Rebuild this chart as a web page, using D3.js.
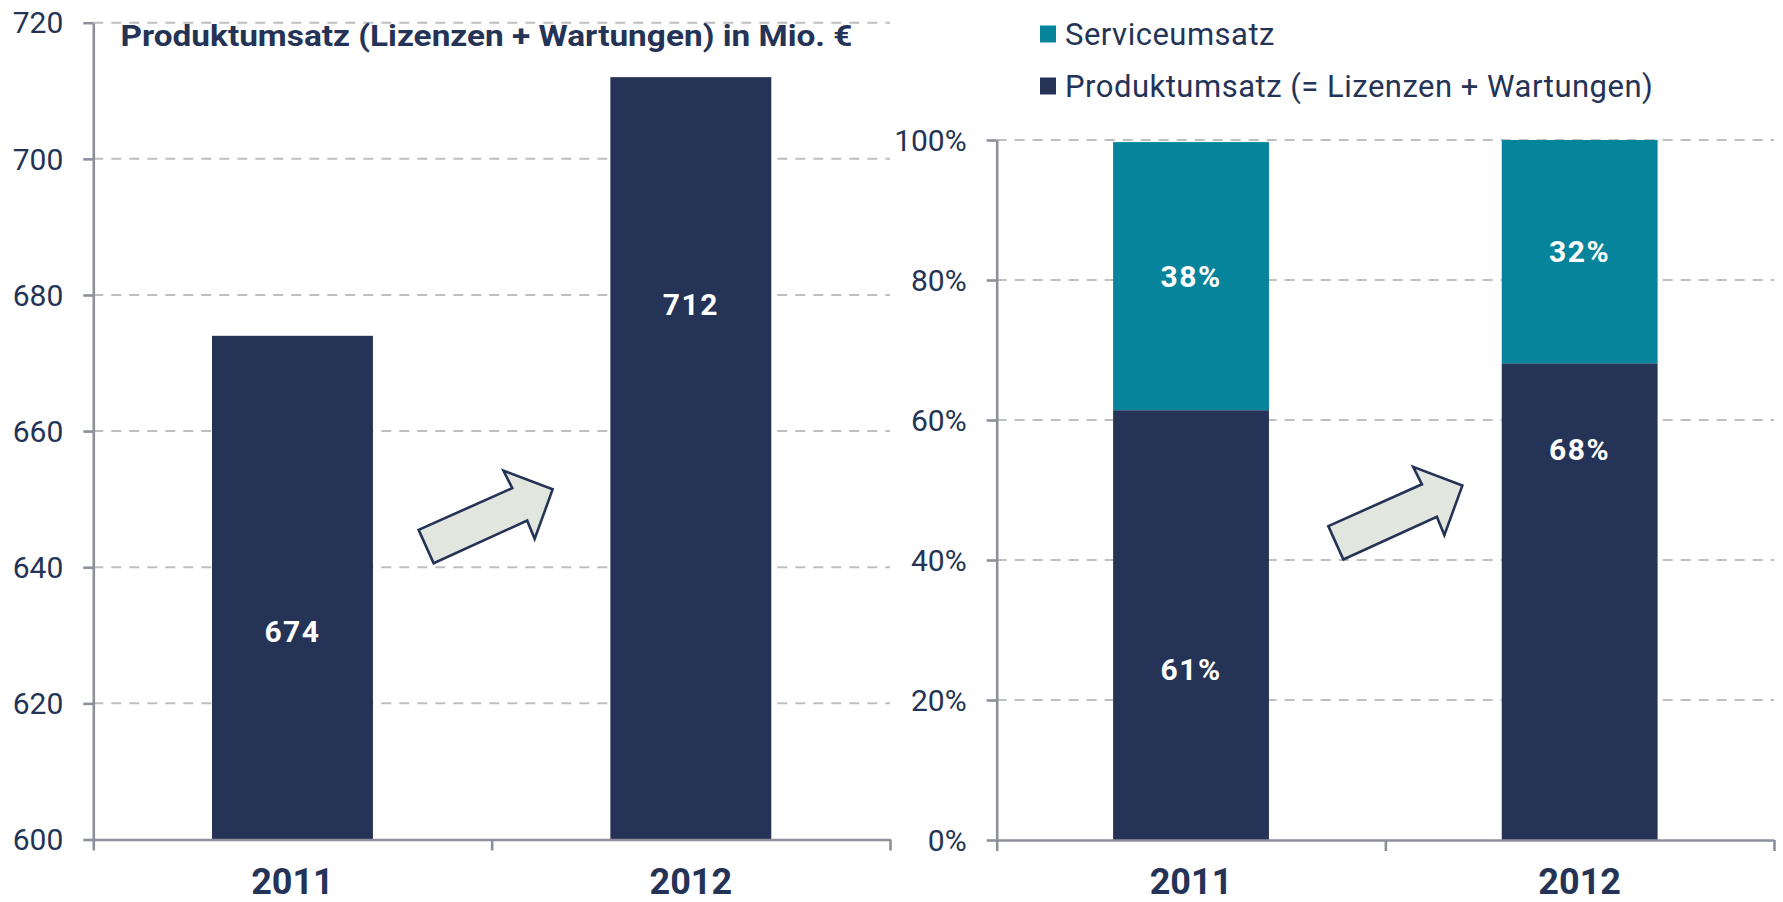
<!DOCTYPE html>
<html><head><meta charset="utf-8">
<script src="https://cdn.jsdelivr.net/npm/d3@7"></script>
<style>
body{margin:0;background:#fff;}
text{font-family:Roboto,"Open Sans",sans-serif;fill:#243356;}
</style></head>
<body><svg id="c" width="1783" height="902"></svg>
<script>
const years = ["2011","2012"];
const productRevenue = [674, 712];
const productShare = [61.4, 68.1];
const serviceShare = [38.3, 31.9];
const leftTicks = [600,620,640,660,680,700,720];
const rightTicks = [0,20,40,60,80,100];
const leftTitle = "Produktumsatz (Lizenzen + Wartungen) in Mio. €";
const legendLabels = ["Serviceumsatz","Produktumsatz (= Lizenzen + Wartungen)"];

const NAVY="#243356", TEAL="#05849B", AXIS="#8D909B", GRID="#BFBFBF", ARROWFILL="#E1E6DE";
const svg = d3.select("#c");

function arrow(g, cx, cy){
  const shape=[[-67,13],[-52,46.4],[41.5,3.7],[49,22],[67,-27.5],[17.8,-46.3],[26.6,-28.8]];
  g.append("polygon").attr("points", shape.map(p=>[cx+p[0],cy+p[1]].join(",")).join(" "))
   .attr("fill",ARROWFILL).attr("stroke",NAVY).attr("stroke-width",2.6).attr("stroke-linejoin","miter");
}

function panel(opts){
  const g = svg.append("g");
  const y = d3.scaleLinear().domain(opts.domain).range([opts.bottom, opts.top]);
  const x = d3.scaleBand().domain(years).range([opts.left, opts.right]).padding(0);
  const xl = d3.scaleLinear().domain([0, years.length]).range([opts.left, opts.right]);
  g.append("g").selectAll("line").data(opts.ticks.filter(t=>t!==opts.domain[0])).join("line")
    .attr("x1",opts.left).attr("x2",opts.right).attr("y1",d=>y(d)).attr("y2",d=>y(d))
    .attr("stroke",GRID).attr("stroke-width",2).attr("stroke-dasharray","10,8");
  const ya = g.append("g").attr("transform",`translate(${opts.left},0)`)
    .call(d3.axisLeft(y).tickValues(opts.ticks).tickSize(10).tickSizeOuter(0).tickPadding(20).tickFormat(opts.fmt));
  ya.select(".domain").attr("stroke",AXIS).attr("stroke-width",2.6);
  ya.selectAll(".tick line").attr("stroke",AXIS).attr("stroke-width",2.6);
  ya.selectAll(".tick text").attr("font-size",30).attr("fill",NAVY).attr("font-family","Roboto").attr("dy","0.34em");
  opts.drawBars(g, x, y);
  const xa = g.append("g").attr("transform",`translate(0,${opts.bottom})`)
    .call(d3.axisBottom(xl).tickValues(d3.range(years.length+1)).tickSize(11).tickSizeOuter(0).tickFormat(""));
  xa.select(".domain").attr("stroke",AXIS).attr("stroke-width",2.6);
  xa.selectAll(".tick line").attr("stroke",AXIS).attr("stroke-width",2.6);
  g.append("g").selectAll("text").data(years).join("text")
    .attr("x",d=>x(d)+x.bandwidth()/2).attr("y",894).attr("text-anchor","middle")
    .attr("font-size",36).attr("font-weight","bold").text(d=>d);
  return {g,x,y,xl};
}

// Left panel
const L = panel({left:93.3,right:890,top:22.7,bottom:839.5,domain:[600,720],ticks:leftTicks,fmt:d3.format("d"),
  drawBars:(g,x,y)=>{
    const w = x.bandwidth()*0.404;
    g.append("g").selectAll("rect").data(years).join("rect")
      .attr("x",(d)=>x(d)+x.bandwidth()/2-w/2).attr("width",w)
      .attr("y",(d,i)=>y(productRevenue[i])).attr("height",(d,i)=>y(600)-y(productRevenue[i]))
      .attr("fill",NAVY);
  }});
const leftLabelAt = [630.6, 678.6];
L.g.append("g").selectAll("text").data(years).join("text")
  .attr("x",d=>L.x(d)+L.x.bandwidth()/2).attr("y",(d,i)=>L.y(leftLabelAt[i])).attr("dy","0.36em")
  .attr("text-anchor","middle").attr("font-size",30).attr("font-weight","bold").attr("letter-spacing",1.5)
  .style("fill","#fff").text((d,i)=>productRevenue[i]);
L.g.append("text").attr("x",120.5).attr("y",46).attr("font-size",29).attr("font-weight","bold")
  .attr("textLength",732).attr("lengthAdjust","spacingAndGlyphs").text(leftTitle);
arrow(L.g, L.xl(1)-6, L.y(647.4));

// Right panel
const R = panel({left:996.7,right:1774,top:140,bottom:840,domain:[0,100],ticks:rightTicks,fmt:d=>d+"%",
  drawBars:(g,x,y)=>{
    const w = x.bandwidth()*0.401;
    g.append("g").selectAll("rect").data(years).join("rect")
      .attr("x",d=>x(d)+x.bandwidth()/2-w/2).attr("width",w)
      .attr("y",(d,i)=>y(productShare[i])).attr("height",(d,i)=>y(0)-y(productShare[i]))
      .attr("fill",NAVY);
    g.append("g").selectAll("rect").data(years).join("rect")
      .attr("x",d=>x(d)+x.bandwidth()/2-w/2).attr("width",w)
      .attr("y",(d,i)=>y(productShare[i]+serviceShare[i])).attr("height",(d,i)=>y(productShare[i])-y(productShare[i]+serviceShare[i]))
      .attr("fill",TEAL);
  }});
const prodLabelAt = [24.4, 55.9];
R.g.append("g").selectAll("text").data(years).join("text")
  .attr("x",d=>R.x(d)+R.x.bandwidth()/2).attr("y",(d,i)=>R.y(prodLabelAt[i])).attr("dy","0.36em")
  .attr("text-anchor","middle").attr("font-size",30).attr("font-weight","bold").attr("letter-spacing",1.5)
  .style("fill","#fff").text((d,i)=>Math.round(productShare[i])+"%");
R.g.append("g").selectAll("text").data(years).join("text")
  .attr("x",d=>R.x(d)+R.x.bandwidth()/2).attr("y",(d,i)=>R.y(productShare[i]+serviceShare[i]/2)).attr("dy","0.36em")
  .attr("text-anchor","middle").attr("font-size",30).attr("font-weight","bold").attr("letter-spacing",1.5)
  .style("fill","#fff").text((d,i)=>Math.round(serviceShare[i])+"%");
arrow(R.g, R.xl(1)+10, R.y(46.7));

// Legend
const leg = svg.append("g").attr("transform","translate(1040,0)");
const legColors=[TEAL,NAVY];
legendLabels.forEach((t,i)=>{
  const cy = 34 + i*52;
  leg.append("rect").attr("x",0).attr("y",cy-8.5).attr("width",16).attr("height",17).attr("fill",legColors[i]);
  leg.append("text").attr("x",25).attr("y",cy).attr("dy","0.36em").attr("font-size",31).attr("letter-spacing",0.5).text(t);
});
</script></body></html>
